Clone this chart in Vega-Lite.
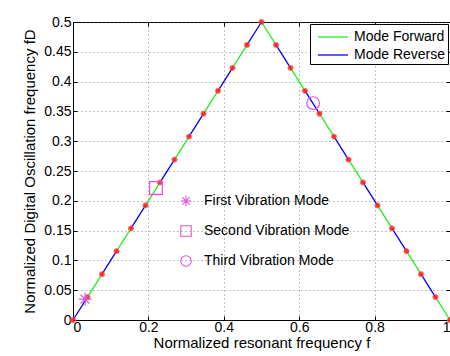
{
  "$schema": "https://vega.github.io/schema/vega-lite/v6.json",
  "width": 377,
  "height": 298,
  "autosize": {"type": "none"},
  "padding": {"left": 73, "top": 22, "right": 0, "bottom": 36},
  "background": "white",
  "config": {
    "font": "Liberation Sans",
    "view": {"stroke": "black", "strokeWidth": 1},
    "axis": {
      "domainColor": "black",
      "tickColor": "black",
      "labelColor": "black",
      "titleColor": "black",
      "labelFontSize": 14,
      "titleFontSize": 15,
      "titleFontWeight": "normal",
      "labelFont": "Liberation Sans",
      "titleFont": "Liberation Sans",
      "gridColor": "#555555",
      "gridDash": [1, 3],
      "gridOpacity": 0.7,
      "tickSize": -4
    },
    "legend": {
      "labelFont": "Liberation Sans",
      "labelFontSize": 14,
      "labelColor": "black"
    }
  },
  "datasets": {
    "segments": [
      {"seg": 0, "mode": "Mode Reverse", "f": 0, "fD": 0},
      {"seg": 0, "mode": "Mode Reverse", "f": 0.0385, "fD": 0.0385},
      {"seg": 1, "mode": "Mode Forward", "f": 0.0385, "fD": 0.0385},
      {"seg": 1, "mode": "Mode Forward", "f": 0.0769, "fD": 0.0769},
      {"seg": 2, "mode": "Mode Reverse", "f": 0.0769, "fD": 0.0769},
      {"seg": 2, "mode": "Mode Reverse", "f": 0.1154, "fD": 0.1154},
      {"seg": 3, "mode": "Mode Forward", "f": 0.1154, "fD": 0.1154},
      {"seg": 3, "mode": "Mode Forward", "f": 0.1538, "fD": 0.1538},
      {"seg": 4, "mode": "Mode Reverse", "f": 0.1538, "fD": 0.1538},
      {"seg": 4, "mode": "Mode Reverse", "f": 0.1923, "fD": 0.1923},
      {"seg": 5, "mode": "Mode Forward", "f": 0.1923, "fD": 0.1923},
      {"seg": 5, "mode": "Mode Forward", "f": 0.2308, "fD": 0.2308},
      {"seg": 6, "mode": "Mode Reverse", "f": 0.2308, "fD": 0.2308},
      {"seg": 6, "mode": "Mode Reverse", "f": 0.2692, "fD": 0.2692},
      {"seg": 7, "mode": "Mode Forward", "f": 0.2692, "fD": 0.2692},
      {"seg": 7, "mode": "Mode Forward", "f": 0.3077, "fD": 0.3077},
      {"seg": 8, "mode": "Mode Reverse", "f": 0.3077, "fD": 0.3077},
      {"seg": 8, "mode": "Mode Reverse", "f": 0.3462, "fD": 0.3462},
      {"seg": 9, "mode": "Mode Forward", "f": 0.3462, "fD": 0.3462},
      {"seg": 9, "mode": "Mode Forward", "f": 0.3846, "fD": 0.3846},
      {"seg": 10, "mode": "Mode Reverse", "f": 0.3846, "fD": 0.3846},
      {"seg": 10, "mode": "Mode Reverse", "f": 0.4231, "fD": 0.4231},
      {"seg": 11, "mode": "Mode Forward", "f": 0.4231, "fD": 0.4231},
      {"seg": 11, "mode": "Mode Forward", "f": 0.4615, "fD": 0.4615},
      {"seg": 12, "mode": "Mode Reverse", "f": 0.4615, "fD": 0.4615},
      {"seg": 12, "mode": "Mode Reverse", "f": 0.5, "fD": 0.5},
      {"seg": 13, "mode": "Mode Forward", "f": 0.5, "fD": 0.5},
      {"seg": 13, "mode": "Mode Forward", "f": 0.5385, "fD": 0.4615},
      {"seg": 14, "mode": "Mode Reverse", "f": 0.5385, "fD": 0.4615},
      {"seg": 14, "mode": "Mode Reverse", "f": 0.5769, "fD": 0.4231},
      {"seg": 15, "mode": "Mode Forward", "f": 0.5769, "fD": 0.4231},
      {"seg": 15, "mode": "Mode Forward", "f": 0.6154, "fD": 0.3846},
      {"seg": 16, "mode": "Mode Reverse", "f": 0.6154, "fD": 0.3846},
      {"seg": 16, "mode": "Mode Reverse", "f": 0.6538, "fD": 0.3462},
      {"seg": 17, "mode": "Mode Forward", "f": 0.6538, "fD": 0.3462},
      {"seg": 17, "mode": "Mode Forward", "f": 0.6923, "fD": 0.3077},
      {"seg": 18, "mode": "Mode Reverse", "f": 0.6923, "fD": 0.3077},
      {"seg": 18, "mode": "Mode Reverse", "f": 0.7308, "fD": 0.2692},
      {"seg": 19, "mode": "Mode Forward", "f": 0.7308, "fD": 0.2692},
      {"seg": 19, "mode": "Mode Forward", "f": 0.7692, "fD": 0.2308},
      {"seg": 20, "mode": "Mode Reverse", "f": 0.7692, "fD": 0.2308},
      {"seg": 20, "mode": "Mode Reverse", "f": 0.8077, "fD": 0.1923},
      {"seg": 21, "mode": "Mode Forward", "f": 0.8077, "fD": 0.1923},
      {"seg": 21, "mode": "Mode Forward", "f": 0.8462, "fD": 0.1538},
      {"seg": 22, "mode": "Mode Reverse", "f": 0.8462, "fD": 0.1538},
      {"seg": 22, "mode": "Mode Reverse", "f": 0.8846, "fD": 0.1154},
      {"seg": 23, "mode": "Mode Forward", "f": 0.8846, "fD": 0.1154},
      {"seg": 23, "mode": "Mode Forward", "f": 0.9231, "fD": 0.0769},
      {"seg": 24, "mode": "Mode Reverse", "f": 0.9231, "fD": 0.0769},
      {"seg": 24, "mode": "Mode Reverse", "f": 0.9615, "fD": 0.0385},
      {"seg": 25, "mode": "Mode Forward", "f": 0.9615, "fD": 0.0385},
      {"seg": 25, "mode": "Mode Forward", "f": 1, "fD": 0}
    ],
    "dots": [
      {"f": 0, "fD": 0}, {"f": 0.0385, "fD": 0.0385}, {"f": 0.0769, "fD": 0.0769},
      {"f": 0.1154, "fD": 0.1154}, {"f": 0.1538, "fD": 0.1538}, {"f": 0.1923, "fD": 0.1923},
      {"f": 0.2308, "fD": 0.2308}, {"f": 0.2692, "fD": 0.2692}, {"f": 0.3077, "fD": 0.3077},
      {"f": 0.3462, "fD": 0.3462}, {"f": 0.3846, "fD": 0.3846}, {"f": 0.4231, "fD": 0.4231},
      {"f": 0.4615, "fD": 0.4615}, {"f": 0.5, "fD": 0.5}, {"f": 0.5385, "fD": 0.4615},
      {"f": 0.5769, "fD": 0.4231}, {"f": 0.6154, "fD": 0.3846}, {"f": 0.6538, "fD": 0.3462},
      {"f": 0.6923, "fD": 0.3077}, {"f": 0.7308, "fD": 0.2692}, {"f": 0.7692, "fD": 0.2308},
      {"f": 0.8077, "fD": 0.1923}, {"f": 0.8462, "fD": 0.1538}, {"f": 0.8846, "fD": 0.1154},
      {"f": 0.9231, "fD": 0.0769}, {"f": 0.9615, "fD": 0.0385}, {"f": 1, "fD": 0}
    ],
    "markers": [
      {"mode": "First Vibration Mode", "f": 0.032, "fD": 0.035},
      {"mode": "Second Vibration Mode", "f": 0.220, "fD": 0.2215},
      {"mode": "Third Vibration Mode", "f": 0.637, "fD": 0.364}
    ]
  },
  "layer": [
    {
      "data": {"name": "segments"},
      "mark": {"type": "line", "strokeWidth": 1.3},
      "encoding": {
        "x": {
          "field": "f", "type": "quantitative",
          "scale": {"domain": [0, 1], "nice": false, "zero": false},
          "axis": {
            "orient": "bottom",
            "values": [0, 0.2, 0.4, 0.6, 0.8, 1],
            "format": "~g",
            "title": "Normalized resonant frequency    f",
            "labelPadding": 4,
            "titlePadding": 1,
            "grid": true
          }
        },
        "y": {
          "field": "fD", "type": "quantitative",
          "scale": {"domain": [0, 0.5], "nice": false, "zero": false},
          "axis": {
            "orient": "left",
            "values": [0, 0.05, 0.1, 0.15, 0.2, 0.25, 0.3, 0.35, 0.4, 0.45, 0.5],
            "format": "~g",
            "title": "Normalized Digital Oscillation frequency   fD",
            "labelPadding": 6,
            "titlePadding": 6,
            "grid": true
          }
        },
        "detail": {"field": "seg", "type": "nominal"},
        "color": {
          "field": "mode", "type": "nominal",
          "scale": {"domain": ["Mode Forward", "Mode Reverse"], "range": ["#22ee22", "#0000ff"]},
          "legend": {
            "title": null,
            "orient": "top-right",
            "offset": 2,
            "symbolType": "M-0.5,0L2.5,0",
            "symbolSize": 400,
            "symbolStrokeWidth": 1.3,
            "labelFontSize": 14,
            "labelOffset": 20,
            "rowPadding": 0,
            "padding": 2,
            "strokeColor": "black",
            "fillColor": "white",
            "cornerRadius": 0
          }
        }
      }
    },
    {
      "data": {"name": "dots"},
      "mark": {"type": "point", "shape": "circle", "filled": true, "color": "#ff1a1a", "size": 28, "opacity": 0.85, "stroke": "#ff6060", "strokeWidth": 0.8},
      "encoding": {
        "x": {"field": "f", "type": "quantitative", "axis": null},
        "y": {"field": "fD", "type": "quantitative", "axis": null}
      }
    },
    {
      "data": {"name": "markers"},
      "mark": {"type": "point", "filled": false, "color": "#e055d5", "strokeWidth": 1.2, "size": 160, "opacity": 1},
      "encoding": {
        "x": {"field": "f", "type": "quantitative", "axis": null},
        "y": {"field": "fD", "type": "quantitative", "axis": null},
        "shape": {
          "field": "mode", "type": "nominal",
          "scale": {
            "domain": ["First Vibration Mode", "Second Vibration Mode", "Third Vibration Mode"],
            "range": ["M-1,0L1,0M0,-1L0,1M-0.7,-0.7L0.7,0.7M-0.7,0.7L0.7,-0.7", "square", "circle"]
          },
          "legend": {
            "title": null,
            "orient": "none",
            "legendX": 106,
            "legendY": 172,
            "padding": 0,
            "symbolSize": 110,
            "symbolStrokeColor": "#e055d5",
            "symbolFillColor": "transparent",
            "symbolStrokeWidth": 1.1,
            "labelFontSize": 14,
            "labelOffset": 11,
            "rowPadding": 14
          }
        }
      }
    },
    {
      "data": {"name": "dots"},
      "mark": {"type": "point", "opacity": 0},
      "encoding": {
        "x": {
          "field": "f", "type": "quantitative",
          "axis": {"orient": "top", "values": [0, 0.2, 0.4, 0.6, 0.8, 1], "labels": false, "title": null, "grid": false, "domain": false}
        },
        "y": {
          "field": "fD", "type": "quantitative",
          "axis": {"orient": "right", "values": [0, 0.05, 0.1, 0.15, 0.2, 0.25, 0.3, 0.35, 0.4, 0.45, 0.5], "labels": false, "title": null, "grid": false, "domain": false}
        }
      }
    }
  ],
  "resolve": {"axis": {"x": "independent", "y": "independent"}}
}
